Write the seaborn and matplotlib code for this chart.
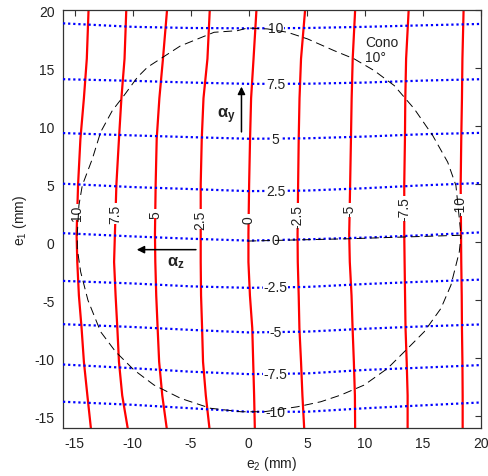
import numpy as np
import matplotlib
matplotlib.use("Agg")
import matplotlib.pyplot as plt
import seaborn as sns

# alpha_z iso-lines (red): e2 position read at fixed e1 heights
az_labels = ["10", "7.5", "5", "2.5", "0", "-2.5", "-5", "-7.5", "-10"]
az_e1 = [20, 15.8, 12.4, 8.9, 5.0, 0.7, -1.7, -4.6, -7.4, -10.3, -13.2, -16]
az_p10 = [-13.8, -13.95, -14.2, -14.5, -14.7, -14.83, -14.77, -14.63, -14.4, -14.2, -13.9, -13.6]
az_p7 = [-10.55, -10.7, -10.97, -11.18, -11.4, -11.53, -11.6, -11.47, -11.32, -11.18, -10.9, -10.43]
az_p5 = [-7.04, -7.39, -7.7, -7.93, -8.02, -8.08, -8.05, -7.97, -7.85, -7.72, -7.45, -7.07]
az_p2 = [-3.36, -3.56, -3.9, -4.05, -4.14, -4.14, -4.14, -4.11, -4.02, -3.94, -3.7, -3.39]
az_0 = [0.66, 0.41, 0.2, 0.11, 0.03, -0.03, -0.03, 0.1, 0.3, 0.38, 0.46, 0.52]
az_m2 = [4.85, 4.5, 4.37, 4.3, 4.25, 4.2, 4.22, 4.3, 4.36, 4.5, 4.62, 4.77]
az_m5 = [9.16, 8.95, 8.86, 8.8, 8.73, 8.65, 8.7, 8.85, 8.94, 9.05, 9.14, 9.16]
az_m7 = [13.77, 13.55, 13.48, 13.45, 13.39, 13.39, 13.42, 13.46, 13.5, 13.6, 13.68, 13.68]
az_m10 = [18.5, 18.4, 18.36, 18.3, 18.25, 18.28, 18.3, 18.34, 18.36, 18.4, 18.42, 18.42]

# alpha_y iso-lines (blue): e1 position read at fixed e2 positions
ay_labels = ["10", "7.5", "5", "2.5", "0", "-2.5", "-5", "-7.5", "-10"]
ay_e2 = [-16, -10, -5, 0, 5, 10, 15, 20]
ay_p10 = [18.85, 18.55, 18.45, 18.42, 18.45, 18.55, 18.68, 18.8]
ay_p7 = [14.04, 13.9, 13.75, 13.64, 13.65, 13.75, 13.92, 14.04]
ay_p5 = [9.4, 9.2, 9.05, 8.91, 8.95, 9.1, 9.3, 9.42]
ay_p2 = [5.04, 4.75, 4.58, 4.4, 4.45, 4.65, 4.9, 5.1]
ay_0 = [0.78, 0.5, 0.3, 0.14, 0.25, 0.4, 0.6, 0.85]
ay_m2 = [-3.33, -3.55, -3.8, -3.93, -3.85, -3.6, -3.4, -3.22]
ay_m5 = [-7.06, -7.3, -7.55, -7.77, -7.7, -7.45, -7.25, -7.08]
ay_m7 = [-10.53, -10.85, -11.15, -11.36, -11.3, -11.0, -10.8, -10.58]
ay_m10 = [-13.74, -14.0, -14.3, -14.6, -14.6, -14.3, -14.05, -13.8]

# 10 deg cone boundary (plus the radius along alpha_y = 0)
cone_e2 = [-0.1, 4.2, 8.7, 13.4, 18.28, 17.84, 17.13, 15.84, 14.25, 12.53, 10.8, 9.08,
           7.35, 5.06, 3.34, 1.61, -0.11, -0.97, -2.99, -5.9, -8.73, -9.59, -10.75,
           -11.75, -12.76, -13.47, -14.34, -14.63, -14.77, -14.77, -14.48, -13.85,
           -12.76, -11.47, -9.89, -8.16, -5.86, -3.3, -0.69, 1.32, 4.2, 6.2, 7.93,
           9.94, 11.95, 13.68, 15.11, 16.55, 17.41, 18.13, 18.28]
cone_e1 = [0.1, 0.2, 0.3, 0.45, 0.6, 4.89, 6.9, 9.19, 11.49, 13.49, 14.78, 15.79,
           16.5, 17.51, 18.08, 18.37, 18.45, 18.22, 18.08, 16.9, 15.07, 14.21, 12.63,
           11.34, 9.48, 7.19, 4.89, 3.17, 0.7, -0.55, -2.55, -5.0, -7.71, -9.43,
           -11.0, -12.3, -13.45, -14.3, -14.6, -14.6, -14.17, -13.74, -13.16, -12.3,
           -10.87, -9.15, -7.71, -5.7, -3.7, -0.83, 0.59]

az_lines = [az_p10, az_p7, az_p5, az_p2, az_0, az_m2, az_m5, az_m7, az_m10]
ay_lines = [ay_p10, ay_p7, ay_p5, ay_p2, ay_0, ay_m2, ay_m5, ay_m7, ay_m10]
az_label_e1 = [2.6, 2.5, 2.45, 2.0, 2.0, 2.3, 2.75, 2.9, 3.2]
ay_label_e2 = 2.3

sns.set_style("white")
plt.rcParams["font.family"] = ["Liberation Sans", "DejaVu Sans"]
plt.rcParams["mathtext.fontset"] = "custom"
plt.rcParams["mathtext.rm"] = "Liberation Sans"
plt.rcParams["mathtext.it"] = "Liberation Sans:italic"
plt.rcParams["mathtext.bf"] = "Liberation Sans:bold"
plt.rcParams["axes.unicode_minus"] = False

fig = plt.figure(figsize=(4.89, 4.77), dpi=100)
ax = fig.add_axes([63 / 489, 1 - 429 / 477, 418 / 489, 418 / 477])

txtcol = "#222222"
lbl_box = dict(boxstyle="square,pad=0.05", fc="white", ec="none")

for xs, lab, ly in zip(az_lines, az_labels, az_label_e1):
    sns.lineplot(x=xs, y=az_e1, sort=False, estimator=None, color="#ff0000",
                 lw=1.6, ax=ax, zorder=2)
    lx = np.interp(ly, az_e1[::-1], xs[::-1])
    ax.text(lx, ly, lab, rotation=90, ha="center", va="center", fontsize=10,
            color=txtcol, bbox=lbl_box, zorder=4)

for ys, lab in zip(ay_lines, ay_labels):
    sns.lineplot(x=ay_e2, y=ys, sort=False, estimator=None, color="#0000ff",
                 lw=1.6, ls=(0, (1, 1.3)), ax=ax, zorder=3)
    ly = np.interp(ay_label_e2, ay_e2, ys)
    ax.text(ay_label_e2, ly, lab, ha="center", va="center", fontsize=10,
            color=txtcol, bbox=lbl_box, zorder=4)

sns.lineplot(x=cone_e2, y=cone_e1, sort=False, estimator=None, color="black",
             lw=0.7, ls=(0, (9, 5)), ax=ax, zorder=5)
ax.text(10.0, 16.6, "Cono\n10°", ha="left", va="center", fontsize=10,
        color=txtcol, linespacing=1.15, zorder=6)

# direction arrows
arrow_kw = dict(arrowstyle="-|>", color="black", lw=1.1, mutation_scale=11,
                shrinkA=0, shrinkB=0)
ax.annotate("", xy=(-0.63, 13.4), xytext=(-0.63, 9.5), arrowprops=arrow_kw, zorder=6)
ax.annotate("", xy=(-9.65, -0.64), xytext=(-4.55, -0.64), arrowprops=arrow_kw, zorder=6)
ax.text(-1.9, 10.9, r"$\mathbf{α_y}$", ha="center", va="center", fontsize=12,
        color=txtcol, zorder=6)
ax.text(-6.3, -1.75, r"$\mathbf{α_z}$", ha="center", va="center", fontsize=12,
        color=txtcol, zorder=6)

ax.set_xlim(-16, 20)
ax.set_ylim(-16, 20)
ax.set_xticks(np.arange(-15, 21, 5))
ax.set_yticks(np.arange(-15, 21, 5))
ax.tick_params(direction="in", length=4, width=0.8, top=True, right=True,
               labelsize=10, colors="#333333", labelcolor=txtcol, pad=6)
for s in ax.spines.values():
    s.set_color("#333333")
    s.set_linewidth(0.9)
ax.set_xlabel(r"e$_2$ (mm)", fontsize=10, color=txtcol, labelpad=3)
ax.set_ylabel(r"e$_1$ (mm)", fontsize=10, color=txtcol, labelpad=4)

fig.savefig("out.png", dpi=100)
